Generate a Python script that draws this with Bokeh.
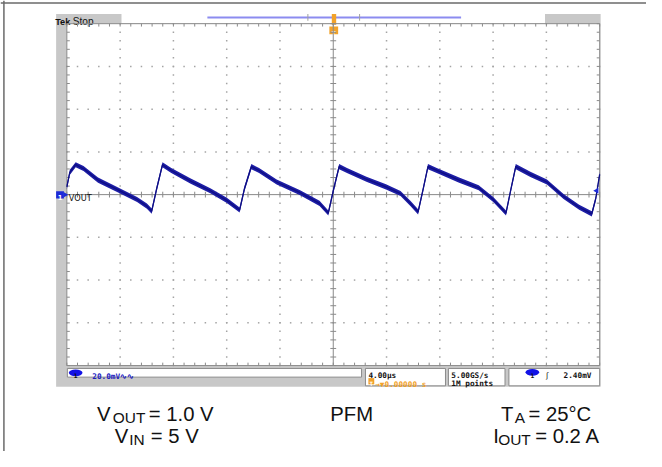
import numpy as np
from bokeh.plotting import figure
from bokeh.models import Range1d
from bokeh.embed import file_html
from bokeh.resources import INLINE
from bokeh.core.properties import value

# ---- data read from the scope capture (time in us, VOUT ripple in mV) ----
time_us = [-20.00, -19.78, -19.34, -18.75, -17.66, -16.19, -14.73, -13.99, -13.63,
           -13.26, -12.82, -12.16, -10.70, -9.23, -7.99, -7.03,
           -6.67, -6.15, -5.57, -4.25, -2.49, -1.03, -0.37,
           0.00, 0.44, 1.03, 2.49, 3.96, 5.05, 5.79, 6.37,
           6.74, 7.11, 7.77, 9.45, 10.92, 12.01, 12.97,
           13.33, 13.70, 14.80, 16.04, 17.29, 18.46, 19.41,
           19.71, 20.00]
vout_mv = [3.6, 10.4, 14.0, 12.2, 6.8, 2.3, -2.3, -5.4, -7.7,
           2.7, 14.0, 11.3, 6.3, 1.8, -2.7, -7.2,
           2.7, 13.1, 11.3, 5.9, 0.9, -4.1, -8.6,
           1.8, 13.1, 11.3, 7.2, 3.6, 0.5, -4.1, -8.1,
           2.3, 13.1, 11.3, 6.8, 3.2, -2.3, -8.6,
           2.3, 13.1, 9.5, 5.9, -0.9, -5.9, -9.0,
           -1.8, 9.5]

time_per_div = 4.0     # us/div
volt_per_div = 20.0    # mV/div
n_hdiv = 10
n_vdiv = 8
ch1_scale = "20.0mV\u223f\u223f"
timebase = "4.00\u00b5s"
trig_pos = "\u2192\u25bc0.00000 s"
sample_rate = "5.00GS/s"
rec_len = "1M points"
trig_level = "2.40mV"

# ---- layout (reference pixel geometry, 662 x 467 design canvas) ----
W, H = 646, 451
RW, RH = 662, 467
S = min(W / RW, H / RH)
CX, CY = 341.0, 201.0
PX_US = 54.6 / time_per_div
PX_MV = 44.25 / volt_per_div


def X(px):
    return (px - CX) / PX_US


def Y(py):
    return (CY - py) / PX_MV


p = figure(width=W, height=H, output_backend="svg", toolbar_location=None,
           x_range=Range1d(X(0), X(RW)), y_range=Range1d(Y(RH), Y(0)),
           x_axis_type=None, y_axis_type=None, min_border=0,
           outline_line_color=None, background_fill_color="white",
           border_fill_color="white")
p.xgrid.visible = False
p.ygrid.visible = False


def box(x0, y0, x1, y1, fill, line=None, lw=1):
    p.quad(left=[X(x0)], right=[X(x1)], top=[Y(y0)], bottom=[Y(y1)],
           fill_color=fill, line_color=line, line_width=lw)


def seg(x0, y0, x1, y1, color, lw=1):
    p.segment(x0=[X(x0)], y0=[Y(y0)], x1=[X(x1)], y1=[Y(y1)],
              line_color=color, line_width=lw)


def txt(px, py, s, size, color="#111111", font="Liberation Sans", bold=False,
        align="left", baseline="alphabetic"):
    p.text(x=[X(px)], y=[Y(py)], text=[s], text_font=value(font),
           text_font_size=f"{size * S:.2f}px",
           text_font_style="bold" if bold else "normal",
           text_color=color, text_align=align, text_baseline=baseline)


# outer page frame
seg(0, 2.5, RW, 2.5, "#6a6a6a", 1.5)
seg(3.5, 0, 3.5, RH, "#6a6a6a", 1.5)

# scope panel
GRAY = "#c8c8c8"
box(57, 14, 615, 400, GRAY)
box(124, 14, 558, 23.5, "white")
box(68, 24, 614, 378, "white")

# top band contents
txt(56, 22, "Tek", 9.5, "#111111", bold=True)
txt(74, 22, "Stop", 10.5, "#111111")
seg(212, 17.5, 472, 17.5, "#8c8cf0", 2)
seg(315, 14, 315, 21, "#a0a0a0", 1)
seg(368, 14, 368, 21, "#a0a0a0", 1)
ORANGE = "#f2a22a"
box(339.5, 14, 344, 25, ORANGE)
box(337, 27, 346, 35, ORANGE)
txt(341.5, 34, "T", 7, "white", bold=True, align="center")

# graticule
tmin, tmax = -n_hdiv / 2 * time_per_div, n_hdiv / 2 * time_per_div
vmin, vmax = -n_vdiv / 2 * volt_per_div, n_vdiv / 2 * volt_per_div
dt_minor = time_per_div / 5
dv_minor = volt_per_div / 5
t_minor = np.arange(tmin, tmax + 1e-9, dt_minor)
v_minor = np.arange(vmin, vmax + 1e-9, dv_minor)
t_div = [tmin + k * time_per_div for k in range(1, n_hdiv) if k != n_hdiv // 2]
v_div = [vmin + k * volt_per_div for k in range(1, n_vdiv) if k != n_vdiv // 2]

dx, dy = [], []
for t in t_div:
    dx += [t] * len(v_minor)
    dy += list(v_minor)
for v in v_div:
    dx += list(t_minor)
    dy += [v] * len(t_minor)
p.scatter(x=dx, y=dy, marker="square", size=1.5, fill_color="#a4a4a4",
          line_color=None)

TICK = "#8a8a8a"
tk_t = 3.0 / PX_US
tk_v = 3.0 / PX_MV
# edge ticks
p.segment(x0=[tmin] * len(v_minor), y0=list(v_minor), x1=[tmin + tk_t] * len(v_minor),
          y1=list(v_minor), line_color=TICK)
p.segment(x0=[tmax] * len(v_minor), y0=list(v_minor), x1=[tmax - tk_t] * len(v_minor),
          y1=list(v_minor), line_color=TICK)
p.segment(x0=list(t_minor), y0=[vmax] * len(t_minor), x1=list(t_minor),
          y1=[vmax - tk_v] * len(t_minor), line_color=TICK)
p.segment(x0=list(t_minor), y0=[vmin] * len(t_minor), x1=list(t_minor),
          y1=[vmin + tk_v] * len(t_minor), line_color=TICK)
# centre cross with ticks
p.segment(x0=[tmin, 0], y0=[0, vmin], x1=[tmax, 0], y1=[0, vmax], line_color=TICK)
p.segment(x0=list(t_minor), y0=[-tk_v] * len(t_minor), x1=list(t_minor),
          y1=[tk_v] * len(t_minor), line_color=TICK)
p.segment(x0=[-tk_t] * len(v_minor), y0=list(v_minor), x1=[tk_t] * len(v_minor),
          y1=list(v_minor), line_color=TICK)
# graticule border
p.quad(left=[tmin], right=[tmax], bottom=[vmin], top=[vmax], fill_color=None,
       line_color="#8c8c8c", line_width=1)

# waveform (noise band + trace)
band = 1.2
p.varea(x=time_us, y1=[v - band for v in vout_mv], y2=[v + band for v in vout_mv],
        fill_color="#1e1ea6")
p.line(time_us, vout_mv, line_color="#0e0e84", line_width=1.3, line_join="round")

# channel 1 marker / label
BLUE = "#1c2ad8"
box(57, 197.5, 65, 205, BLUE)
p.scatter(x=[X(66.5)], y=[Y(201.2)], marker="triangle", angle=-np.pi / 2, size=5,
          fill_color=BLUE, line_color=None)
txt(61, 204.3, "1", 7, "white", font="DejaVu Sans", bold=True, align="center")
txt(70, 204.5, "VOUT", 8.5, "#111111", font="DejaVu Sans")
# trigger level marker right edge
p.scatter(x=[X(611)], y=[Y(197)], marker="triangle", angle=np.pi / 2, size=6,
          fill_color=BLUE, line_color=None)

# status boxes
box(68.5, 381, 370, 390, "white", "#8a8a8a")
box(374, 381, 456, 399, "white", "#8a8a8a")
box(459, 381, 517, 399, "white", "#8a8a8a")
box(521, 381, 614, 399, "white", "#8a8a8a")
MONO = "DejaVu Sans Mono"
p.ellipse(x=[X(77)], y=[Y(385.5)], width=14 / PX_US, height=7 / PX_MV,
          fill_color="#1212e6", line_color=None)
txt(77, 388.5, "1", 6.5, "#111111", font=MONO, bold=True, align="center")
txt(94, 389, ch1_scale, 8, "#2020c0", font=MONO, bold=True)
txt(377, 388, timebase, 8, "#111111", font=MONO, bold=True)
box(377, 391, 383, 397.5, ORANGE)
txt(380, 397, "T", 6, "white", font=MONO, bold=True, align="center")
txt(384, 397.5, trig_pos, 8, ORANGE, font=MONO, bold=True)
txt(462, 388, sample_rate, 8, "#111111", font=MONO, bold=True)
txt(462, 397, rec_len, 8, "#111111", font=MONO, bold=True)
p.ellipse(x=[X(545)], y=[Y(385)], width=14 / PX_US, height=7 / PX_MV,
          fill_color="#1212e6", line_color=None)
txt(545, 388, "1", 6.5, "#111111", font=MONO, bold=True, align="center")
txt(559, 388.5, "\u0283", 8, "#111111", font="DejaVu Sans")
txt(577, 388, trig_level, 8, "#111111", font=MONO, bold=True)

# conditions text
F = 21
FS = 16
L1, L2 = 428, 451
SUB = 4
txt(99, L1, "V", F)
txt(115, L1 + SUB, "OUT", FS)
txt(152, L1, "= 1.0 V", F)
txt(117, L2, "V", F)
txt(132, L2 + SUB, "IN", FS)
txt(154, L2, "= 5 V", F)
txt(338, L1, "PFM", F)
txt(513, L1, "T", F)
txt(527, L1 + SUB, "A", FS)
txt(541, L1, "= 25\u00b0C", F)
txt(505, L2, "I", F)
txt(510, L2 + SUB, "OUT", FS)
txt(548, L2, "= 0.2 A", F)

open("out.html", "w").write(file_html(p, INLINE))
